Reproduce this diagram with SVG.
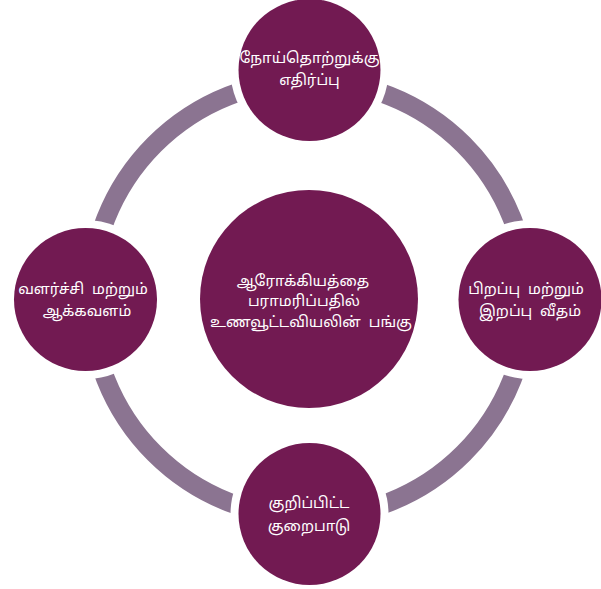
<svg xmlns="http://www.w3.org/2000/svg" width="601" height="589" viewBox="0 0 601 589">
<style>
.node{fill:#721a52}
.gap{fill:#ffffff}
.lbl{fill:#ffffff;font-family:"Noto Sans Tamil","Noto Sans","DejaVu Sans",sans-serif;font-size:15px;text-anchor:middle;word-spacing:4px}
</style>
<g id="connectors">
<circle cx="309" cy="299" r="218.5" fill="none" stroke="#8b7491" stroke-width="19"/>
</g>
<g id="center">
<circle class="node" cx="309" cy="299" r="109"/>
<text class="lbl" x="303" y="286">ஆரோக்கியத்தை</text>
<text class="lbl" x="304" y="306">பராமரிப்பதில்</text>
<text class="lbl" x="311" y="327">உணவூட்டவியலின் பங்கு</text>
</g>
<g id="top">
<circle class="gap" cx="309.5" cy="70" r="79"/>
<circle class="node" cx="309.5" cy="70" r="71"/>
<text class="lbl" x="309.5" y="63">நோய்தொற்றுக்கு</text>
<text class="lbl" x="309.5" y="85">எதிர்ப்பு</text>
</g>
<g id="left">
<circle class="gap" cx="85.5" cy="299.5" r="79.5"/>
<circle class="node" cx="85.5" cy="299.5" r="71.5"/>
<text class="lbl" x="83" y="294">வளர்ச்சி மற்றும்</text>
<text class="lbl" x="87" y="316">ஆக்கவளம்</text>
</g>
<g id="right">
<circle class="gap" cx="530" cy="299.5" r="79.5"/>
<circle class="node" cx="530" cy="299.5" r="71.5"/>
<text class="lbl" x="526" y="294">பிறப்பு மற்றும்</text>
<text class="lbl" x="530" y="316">இறப்பு வீதம்</text>
</g>
<g id="bottom">
<circle class="gap" cx="309.5" cy="514" r="79"/>
<circle class="node" cx="309.5" cy="514" r="71"/>
<text class="lbl" x="309" y="508">குறிப்பிட்ட</text>
<text class="lbl" x="309" y="531">குறைபாடு</text>
</g>
</svg>
